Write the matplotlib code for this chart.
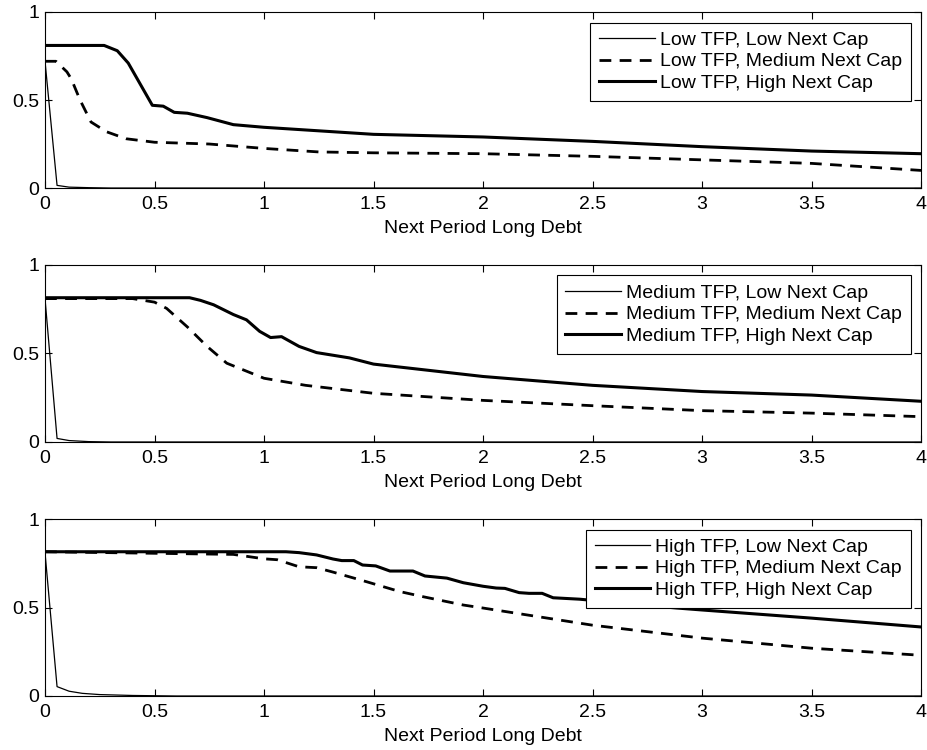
import matplotlib
matplotlib.use("Agg")
import matplotlib.pyplot as plt

plt.rcParams['font.family'] = ['Liberation Sans', 'DejaVu Sans']
plt.rcParams['font.size'] = 14
plt.rcParams['lines.scale_dashes'] = False

# ---- data: price schedules vs next period long debt ----
# low TFP
x_low_low = [0, 0.055, 0.11, 0.2, 0.3, 4]
y_low_low = [0.72, 0.015, 0.005, 0.002, 0.0, 0.0]
x_low_med = [0, 0.05, 0.1, 0.12, 0.16, 0.21, 0.28, 0.37, 0.5, 0.75, 1.0, 1.25, 1.5, 2.0, 2.5, 3.0, 3.5, 4.0]
y_low_med = [0.72, 0.72, 0.66, 0.62, 0.50, 0.375, 0.32, 0.28, 0.26, 0.25, 0.225, 0.205, 0.20, 0.195, 0.18, 0.16, 0.14, 0.10]
x_low_high = [0, 0.27, 0.33, 0.38, 0.49, 0.54, 0.59, 0.65, 0.74, 0.86, 1.0, 1.25, 1.5, 2.0, 2.5, 3.0, 3.5, 4.0]
y_low_high = [0.81, 0.81, 0.78, 0.71, 0.47, 0.465, 0.43, 0.425, 0.40, 0.36, 0.345, 0.325, 0.305, 0.29, 0.265, 0.235, 0.21, 0.195]

# medium TFP
x_med_low = [0, 0.055, 0.11, 0.2, 0.3, 4]
y_med_low = [0.81, 0.02, 0.008, 0.002, 0.0, 0.0]
x_med_med = [0, 0.4, 0.5, 0.555, 0.65, 0.74, 0.83, 0.92, 0.98, 1.0, 1.19, 1.5, 2.0, 2.5, 3.0, 3.5, 4.0]
y_med_med = [0.81, 0.81, 0.79, 0.755, 0.65, 0.54, 0.445, 0.40, 0.37, 0.36, 0.32, 0.275, 0.235, 0.205, 0.177, 0.163, 0.143]
x_med_high = [0, 0.66, 0.71, 0.77, 0.86, 0.92, 0.98, 1.03, 1.08, 1.16, 1.24, 1.39, 1.5, 2.0, 2.5, 3.0, 3.5, 4.0]
y_med_high = [0.815, 0.815, 0.80, 0.775, 0.72, 0.69, 0.625, 0.59, 0.595, 0.54, 0.505, 0.475, 0.44, 0.37, 0.32, 0.285, 0.265, 0.23]

# high TFP
x_high_low = [0, 0.055, 0.11, 0.17, 0.25, 0.4, 0.6, 4]
y_high_low = [0.81, 0.053, 0.027, 0.015, 0.008, 0.003, 0.0, 0.0]
x_high_med = [0, 0.86, 1.0, 1.06, 1.16, 1.24, 1.315, 1.47, 1.62, 1.73, 1.91, 2.0, 2.5, 3.0, 3.5, 4.0]
y_high_med = [0.815, 0.80, 0.775, 0.77, 0.73, 0.725, 0.70, 0.645, 0.59, 0.56, 0.514, 0.497, 0.40, 0.327, 0.27, 0.23]
x_high_high = [0, 1.1, 1.16, 1.24, 1.315, 1.355, 1.41, 1.45, 1.51, 1.575, 1.68, 1.735, 1.835, 1.91,
               2.0, 2.06, 2.10, 2.165, 2.21, 2.27, 2.32, 2.44, 2.885, 3.0, 3.5, 4.0]
y_high_high = [0.815, 0.815, 0.81, 0.797, 0.774, 0.765, 0.765, 0.74, 0.735, 0.706, 0.706, 0.678, 0.666, 0.64,
               0.62, 0.61, 0.608, 0.584, 0.58, 0.58, 0.555, 0.547, 0.497, 0.486, 0.44, 0.39]

panels = [
    ("Low", [(x_low_low, y_low_low), (x_low_med, y_low_med), (x_low_high, y_low_high)]),
    ("Medium", [(x_med_low, y_med_low), (x_med_med, y_med_med), (x_med_high, y_med_high)]),
    ("High", [(x_high_low, y_high_low), (x_high_med, y_high_med), (x_high_high, y_high_high)]),
]
cap_names = ["Low", "Medium", "High"]
styles = [dict(lw=0.9, ls='-'), dict(lw=2.0, ls=(0, (8.5, 6))), dict(lw=2.2, ls='-')]

# axes rectangles (left, bottom, width, height) in figure fractions
rects = [
    [0.0485, 0.7493, 0.9440, 0.2347],
    [0.0485, 0.4107, 0.9440, 0.2360],
    [0.0485, 0.0720, 0.9440, 0.2360],
]

fig = plt.figure(figsize=(9.28, 7.5), dpi=100)

for (tfp, curves), rect in zip(panels, rects):
    ax = fig.add_axes(rect)
    for (xs, ys), cap, st in zip(curves, cap_names, styles):
        ax.plot(xs, ys, color='black', label=f"{tfp} TFP, {cap} Next Cap", **st)
    ax.set_xlim(0, 4)
    ax.set_ylim(0, 1)
    ax.set_xticks([0, 0.5, 1, 1.5, 2, 2.5, 3, 3.5, 4])
    ax.set_xticklabels(['0', '0.5', '1', '1.5', '2', '2.5', '3', '3.5', '4'])
    ax.set_yticks([0, 0.5, 1])
    ax.set_yticklabels(['0', '0.5', '1'])
    ax.tick_params(direction='in', length=5, width=0.8, top=True, right=True)
    ax.tick_params(axis='x', pad=6)
    ax.tick_params(axis='y', pad=4)
    for sp in ax.spines.values():
        sp.set_linewidth(0.8)
    ax.set_xlabel("Next Period Long Debt", labelpad=4.5)
    leg = ax.legend(loc='upper right', fancybox=False, framealpha=1, edgecolor='black',
                    handlelength=2.85, handletextpad=0.26, labelspacing=0.2,
                    borderpad=0.45, borderaxespad=0.54, fontsize=14)
    leg.get_frame().set_linewidth(0.8)

fig.savefig("out.png", dpi=100)
